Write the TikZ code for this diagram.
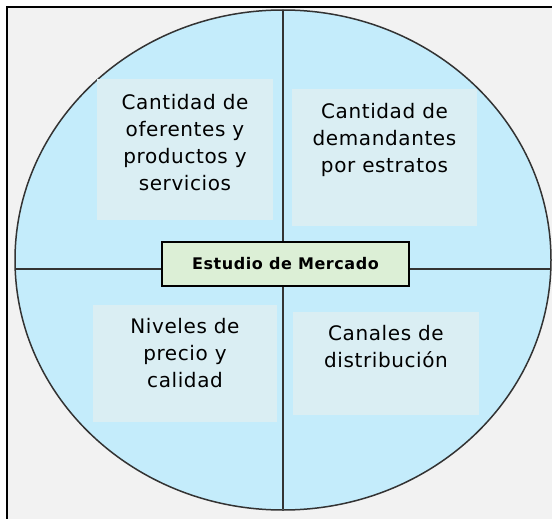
\documentclass[tikz,border=0pt]{standalone}
\usepackage{fontspec}
\setmainfont{DejaVu Sans}
\usetikzlibrary{positioning}
\definecolor{bggray}{HTML}{F2F2F2}
\definecolor{circcyan}{HTML}{C4ECFB}
\definecolor{boxcyan}{HTML}{DAEEF3}
\definecolor{boxgreen}{HTML}{DCEFD6}
\definecolor{linegray}{HTML}{333333}

\begin{document}
\begin{tikzpicture}[x=1pt, y=-1pt,
        quad/.style={fill=boxcyan, inner sep=0pt},
        txt/.style={align=center, inner sep=0pt,
            font=\fontsize{20}{27}\selectfont\addfontfeature{LetterSpace=3}}]
    \useasboundingbox (0,0) rectangle (552,519);
    \fill[bggray] (7,7) rectangle (552,519);
    \draw[line width=2pt] (7,519) -- (7,7) -- (552,7);

    \coordinate (O) at (283,260);
    \draw[fill=circcyan, draw=linegray, line width=1.5pt] (O) ellipse [x radius=268, y radius=250];

    \coordinate (N) at (283,11);
    \coordinate (S) at (283,509);
    \coordinate (W) at (16,269);
    \coordinate (E) at (550,269);
    \draw[linegray, line width=2pt] (N) -- (S);
    \draw[linegray, line width=2pt] (W) -- (E);

    \node[quad, minimum width=176pt, minimum height=141pt] (oferta) at (185,149.5) {};
    \node[quad, minimum width=185pt, minimum height=137pt] (demanda) at (384.5,157.5) {};
    \node[quad, minimum width=184pt, minimum height=117pt] (precio) at (185,363.5) {};
    \node[quad, minimum width=186pt, minimum height=103pt] (canales) at (386,363.5) {};

    \node[txt, below=15pt of oferta.north] (ofertatxt) {Cantidad de\\oferentes y\\productos y\\servicios};
    \node[txt, below=14pt of demanda.north] (demandatxt) {Cantidad de\\demandantes\\por estratos};
    \node[txt, below=13pt of precio.north] (preciotxt) {Niveles de\\precio y\\calidad};
    \node[txt, below=13pt of canales.north] (canalestxt) {Canales de\\distribución};

    \node[draw, line width=1.3pt, fill=boxgreen, minimum width=247pt, minimum height=44pt,
        font=\bfseries\fontsize{16}{18}\selectfont\addfontfeature{LetterSpace=3.5}]
        (mercado) at (285.5,264) {Estudio de Mercado};
\end{tikzpicture}
\end{document}
